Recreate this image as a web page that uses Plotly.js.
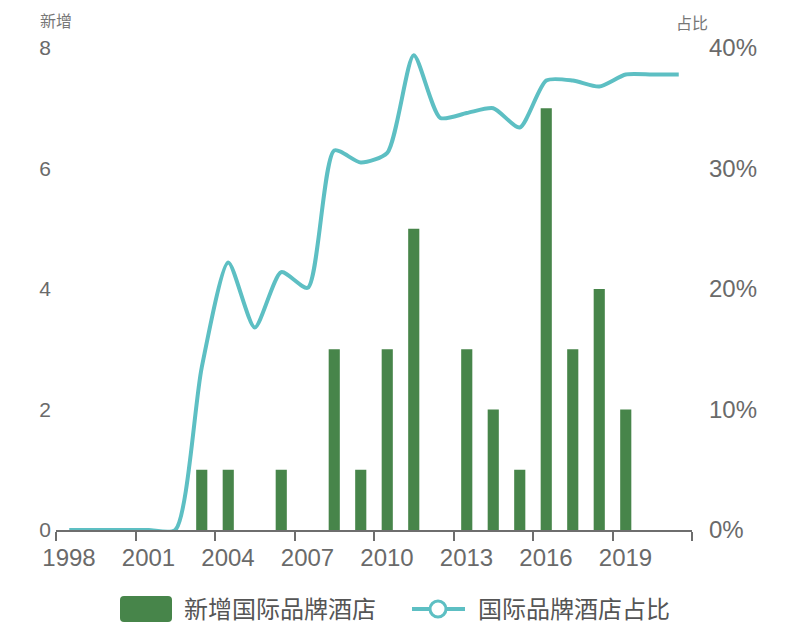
<!DOCTYPE html>
<html>
<head>
<meta charset="utf-8">
<script src="https://cdn.plot.ly/plotly-3.0.1.min.js"></script>
<style>html,body{margin:0;padding:0;background:#fff;}#chart{width:800px;height:644px;}</style>
</head>
<body>
<div id="chart"></div>
<script>
// ---- data ----
const years = [1998,1999,2000,2001,2002,2003,2004,2005,2006,2007,2008,2009,2010,2011,2012,2013,2014,2015,2016,2017,2018,2019,2020,2021];
const newHotels = [0,0,0,0,0,1,1,0,1,0,3,1,3,5,0,3,2,1,7,3,4,2,0,0];
const sharePct = [0,0,0,0,0,13.5,22.2,16.8,21.4,20.1,31.5,30.5,31.3,39.4,34.2,34.6,35.0,33.4,37.3,37.3,36.8,37.8,37.8,37.8];
const xTickYears = [1998,2001,2004,2007,2010,2013,2016,2019];
const leftTicks = [0,2,4,6,8];
const rightTicks = [0,10,20,30,40];
const barName = '新增国际品牌酒店';
const lineName = '国际品牌酒店占比';
const leftTitle = '新增';
const rightTitle = '占比';

const green = '#47854a';
const teal = '#5dbfc3';
const grey = '#6a6a6a';
const font = 'Liberation Sans, Noto Sans CJK SC, sans-serif';

// tick marks at category boundaries, labels shifted to category centre
const boundaryTicks = xTickYears.map(y => y - 0.5).concat([years[years.length-1] + 0.5]);
const boundaryText = xTickYears.map(String).concat(['']);

const traces = [
  {type:'bar', x:years, y:newHotels, name:barName, marker:{color:green}, width:0.42, yaxis:'y', hoverinfo:'x+y'},
  {type:'scatter', mode:'lines', x:years, y:sharePct, name:lineName, yaxis:'y2',
   line:{color:teal, width:4, shape:'spline', smoothing:0.65}, cliponaxis:false}
];

const L = 56, R = 692, T = 48, B = 530;
const px = v => (v - L) / (R - L);
const py = v => (B - v) / (B - T);

const layout = {
  width:800, height:644,
  margin:{l:L, r:800-R, t:T, b:644-B, pad:0},
  paper_bgcolor:'#fff', plot_bgcolor:'#fff',
  showlegend:false,
  font:{family:font, color:grey},
  xaxis:{
    range:[years[0]-0.5, years[years.length-1]+0.5],
    tickmode:'array', tickvals:boundaryTicks, ticktext:boundaryText,
    ticks:'outside', ticklen:9, tickwidth:2, tickcolor:'#6e6e6e',
    ticklabelshift:13, ticklabelstandoff:-4,
    showline:true, linecolor:'#6e6e6e', linewidth:2,
    showgrid:false, zeroline:false,
    tickfont:{size:24, color:grey, family:font}
  },
  yaxis:{
    range:[0,8], tickmode:'array', tickvals:leftTicks, ticktext:leftTicks.map(String),
    showgrid:false, zeroline:false, showline:false, ticks:'',
    ticklabelstandoff:4,
    tickfont:{size:21, color:grey, family:font}
  },
  yaxis2:{
    range:[0,40], overlaying:'y', side:'right',
    tickmode:'array', tickvals:rightTicks, ticktext:rightTicks.map(v => v + '%'),
    showgrid:false, zeroline:false, showline:false, ticks:'',
    ticklabelstandoff:16,
    tickfont:{size:24, color:grey, family:font}
  },
  annotations:[
    {xref:'paper', yref:'paper', x:0, y:py(22), text:leftTitle, showarrow:false, xanchor:'center', yanchor:'middle', font:{size:16, color:'#777', family:font}},
    {xref:'paper', yref:'paper', x:1, y:py(24), text:rightTitle, showarrow:false, xanchor:'center', yanchor:'middle', font:{size:16, color:'#777', family:font}},
    {xref:'paper', yref:'paper', x:px(182), y:py(609), text:barName, showarrow:false, xanchor:'left', yanchor:'middle', font:{size:24, color:'#555', family:font}},
    {xref:'paper', yref:'paper', x:px(476), y:py(609), text:lineName, showarrow:false, xanchor:'left', yanchor:'middle', font:{size:24, color:'#555', family:font}}
  ],
  shapes:[
    {type:'path', xref:'paper', yref:'paper', xsizemode:'pixel', ysizemode:'pixel', xanchor:px(146), yanchor:py(609),
     path:'M-26,-9 Q-26,-13 -22,-13 L22,-13 Q26,-13 26,-9 L26,9 Q26,13 22,13 L-22,13 Q-26,13 -26,9 Z',
     fillcolor:green, line:{width:0}},
    {type:'line', xref:'paper', yref:'paper', x0:px(412), x1:px(465), y0:py(609), y1:py(609), line:{color:teal, width:4}},
    {type:'circle', xref:'paper', yref:'paper', xsizemode:'pixel', ysizemode:'pixel', xanchor:px(438), yanchor:py(609),
     x0:-8, x1:8, y0:-8, y1:8, fillcolor:'#fff', line:{color:teal, width:3}}
  ]
};

Plotly.newPlot('chart', traces, layout, {displayModeBar:false, staticPlot:true});
</script>
</body>
</html>
